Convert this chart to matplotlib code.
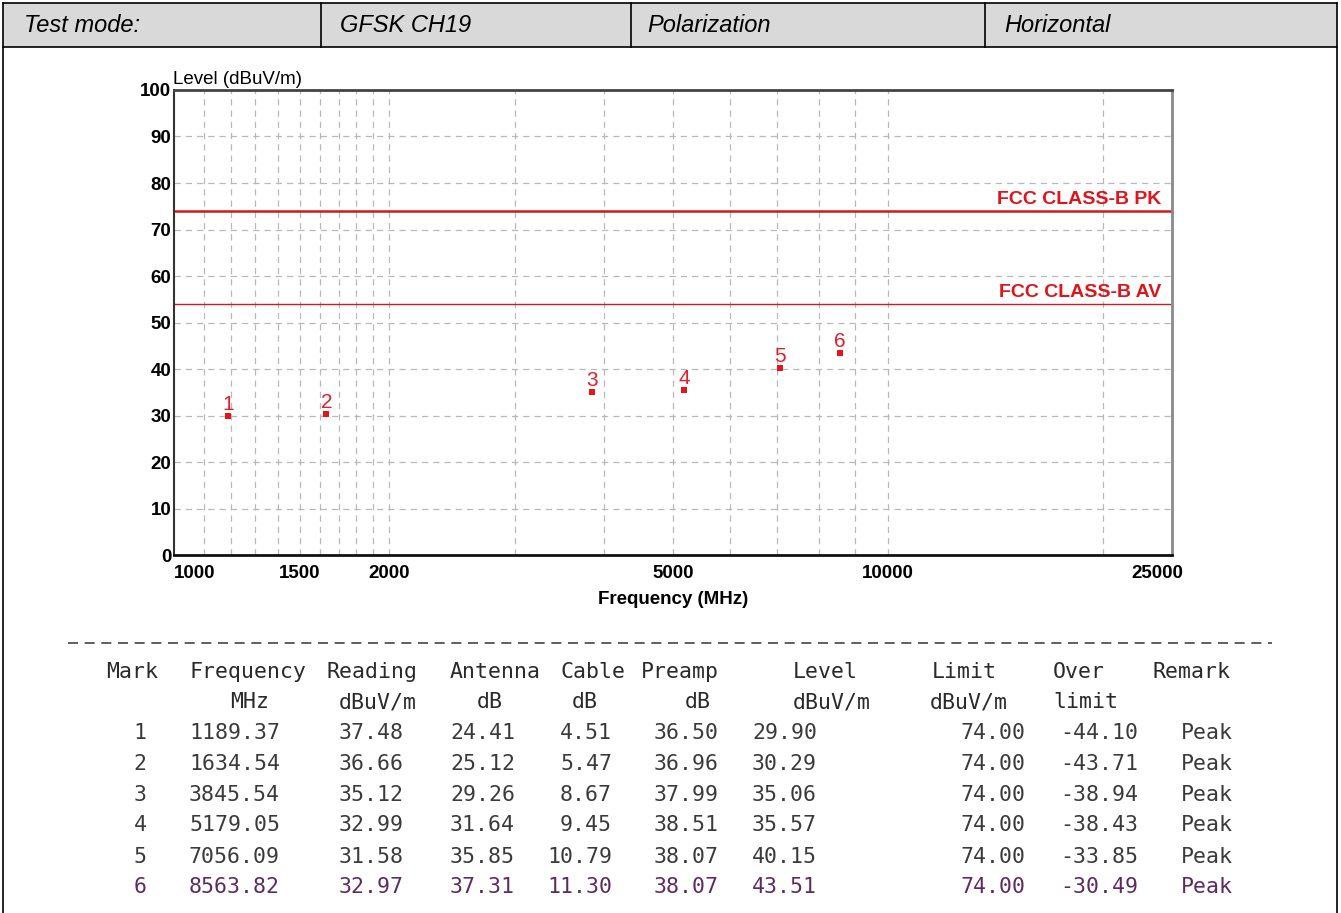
import matplotlib
matplotlib.use('Agg')
import matplotlib.pyplot as plt
import matplotlib.transforms as mtransforms
from matplotlib.lines import Line2D
from matplotlib.patches import Rectangle
from matplotlib.ticker import NullLocator

# ---------------- data ----------------
header_cells = ["Test mode:", "GFSK CH19", "Polarization", "Horizontal"]
marks = [1, 2, 3, 4, 5, 6]
freqs = [1189.37, 1634.54, 3845.54, 5179.05, 7056.09, 8563.82]
reading = [37.48, 36.66, 35.12, 32.99, 31.58, 32.97]
antenna = [24.41, 25.12, 29.26, 31.64, 35.85, 37.31]
cable = [4.51, 5.47, 8.67, 9.45, 10.79, 11.30]
preamp = [36.50, 36.96, 37.99, 38.51, 38.07, 38.07]
level = [29.90, 30.29, 35.06, 35.57, 40.15, 43.51]
limit = [74.00, 74.00, 74.00, 74.00, 74.00, 74.00]
over = [-44.10, -43.71, -38.94, -38.43, -33.85, -30.49]
remark = ["Peak", "Peak", "Peak", "Peak", "Peak", "Peak"]

limit_values = [74, 54]
limit_labels = ["FCC CLASS-B PK", "FCC CLASS-B AV"]

xtick_vals = [1000, 1500, 2000, 5000, 10000, 25000]
xtick_labels = ["1000", "1500", "2000", "5000", "10000", "25000"]
ytick_vals = [0, 10, 20, 30, 40, 50, 60, 70, 80, 90, 100]
grid_x = [1100, 1200, 1300, 1400, 1500, 1600, 1700, 1800, 1900, 2000,
          3000, 4000, 5000, 6000, 7000, 8000, 9000, 10000, 20000]
grid_y = [10, 20, 30, 40, 50, 60, 70, 80, 90]

table_headers = ["Mark", "Frequency", "Reading", "Antenna", "Cable", "Preamp",
                 "Level", "Limit", "Over", "Remark"]
table_units = ["", "MHz", "dBuV/m", "dB", "dB", "dB", "dBuV/m", "dBuV/m", "limit", ""]

# ---------------- layout helpers ----------------
W, H, DPI = 1341, 913, 100
fig = plt.figure(figsize=(W / DPI, H / DPI), dpi=DPI)
fig.patch.set_facecolor('white')

def fx(x):
    return x / W

def fy(y):
    return 1 - y / H

SANS = 'Liberation Sans'
MONO = 'DejaVu Sans Mono'

# ---------------- header row / frame ----------------
fig.patches.append(Rectangle((fx(3), fy(47)), fx(1337) - fx(3), fy(3) - fy(47),
                             transform=fig.transFigure, facecolor='#d9d9d9',
                             edgecolor='none', zorder=0))
frame_kw = dict(transform=fig.transFigure, color='black', lw=1.2)
fig.lines.append(Line2D([fx(3), fx(1337)], [fy(3), fy(3)], **frame_kw))
fig.lines.append(Line2D([fx(3), fx(1337)], [fy(47), fy(47)], **frame_kw))
for xd in [321, 631, 985]:
    fig.lines.append(Line2D([fx(xd), fx(xd)], [fy(3), fy(47)], **frame_kw))
fig.lines.append(Line2D([fx(3), fx(3)], [fy(3), fy(913)], **frame_kw))
fig.lines.append(Line2D([fx(1337), fx(1337)], [fy(3), fy(913)], **frame_kw))

for txt, xp in zip(header_cells, [24, 340, 647, 1004]):
    fig.text(fx(xp), fy(25), txt, family=SANS, style='italic', fontsize=17,
             ha='left', va='center', color='black')

# ---------------- chart ----------------
ax = fig.add_axes([fx(174), fy(555), fx(1172) - fx(174), fy(90) - fy(555)])
ax.set_xscale('log')
ax.set_xlim(1000, 25000)
ax.set_ylim(0, 100)
ax.xaxis.set_minor_locator(NullLocator())

for gx in grid_x:
    ax.axvline(gx, color='#b8b8b8', lw=0.9, linestyle=(0, (5, 4)), zorder=1)
for gy in grid_y:
    ax.axhline(gy, color='#b8b8b8', lw=0.9, linestyle=(0, (5, 4)), zorder=1)

ax.axhline(limit_values[0], color='#cc1a1f', lw=1.8, zorder=2)
ax.axhline(limit_values[1], color='#cc1a1f', lw=1.0, zorder=2)

for val, lab in zip(limit_values, limit_labels):
    ax.annotate(lab, xy=(0.989, val), xycoords=('axes fraction', 'data'),
                xytext=(0, 7), textcoords='offset pixels', ha='right', va='baseline',
                family=SANS, fontweight='bold', fontsize=14, color='#e0141c')

ax.plot(freqs, level, linestyle='none', marker='s', markersize=4.6,
        color='#e8141c', markeredgewidth=0, zorder=3)
for m, f, lv in zip(marks, freqs, level):
    ax.annotate(str(m), xy=(f, lv), xytext=(0, 6), textcoords='offset pixels',
                ha='center', va='baseline', family=SANS, fontsize=15,
                color='#e0202a', zorder=4)

ax.set_xticks(xtick_vals)
ax.set_xticklabels(xtick_labels)
ax.set_yticks(ytick_vals)
ax.set_yticklabels([str(v) for v in ytick_vals])
ax.tick_params(axis='both', length=0, labelsize=13.5, colors='black')
ax.tick_params(axis='x', pad=7)
ax.tick_params(axis='y', pad=2)
for lbl in ax.get_xticklabels() + ax.get_yticklabels():
    lbl.set_fontfamily(SANS)
    lbl.set_fontweight('bold')
xl = ax.get_xticklabels()
xl[0].set_ha('left')
xl[-1].set_transform(xl[-1].get_transform() +
                     mtransforms.ScaledTranslation(-15 / DPI, 0, fig.dpi_scale_trans))

ax.spines['left'].set_color('#333333')
ax.spines['left'].set_linewidth(1.5)
ax.spines['bottom'].set_color('#111111')
ax.spines['bottom'].set_linewidth(2.0)
ax.spines['top'].set_color('#444444')
ax.spines['top'].set_linewidth(2.0)
ax.spines['right'].set_color('#8a8a8a')
ax.spines['right'].set_linewidth(2.0)

ax.set_xlabel('Frequency (MHz)', family=SANS, fontweight='bold', fontsize=13.5)
ax.xaxis.set_label_coords(0.5, -(591 - 555) / 465)
fig.text(fx(173), fy(84), 'Level (dBuV/m)', family=SANS, fontsize=13.5,
         ha='left', va='baseline', color='black')

# ---------------- data table ----------------
fig.lines.append(Line2D([fx(68), fx(1272)], [fy(643), fy(643)], transform=fig.transFigure,
                        color='#444444', lw=1.2, linestyle=(0, (6, 4))))

tfont = dict(family=MONO, fontsize=15.5)
head_x = [106, 189, 326, 450, 560, 641, 793, 932, 1053, 1152]
unit_x = [0, 230, 339, 477, 572, 685, 793, 930, 1053, 0]
for h, u, hx, ux in zip(table_headers, table_units, head_x, unit_x):
    fig.text(fx(hx), fy(672), h, ha='left', va='center', color='#2a2a2a', **tfont)
    if u:
        fig.text(fx(ux), fy(702), u, ha='left', va='center', color='#2a2a2a', **tfont)

row_y = [733, 764, 795, 825, 857, 887]
for i in range(len(marks)):
    c = '#3a3a3a' if i < 5 else '#5e2a62'
    y = fy(row_y[i])
    cells = [
        (140, 'center', f"{marks[i]}"),
        (189, 'left', f"{freqs[i]:.2f}"),
        (339, 'left', f"{reading[i]:.2f}"),
        (450, 'left', f"{antenna[i]:.2f}"),
        (612, 'right', f"{cable[i]:.2f}"),
        (654, 'left', f"{preamp[i]:.2f}"),
        (752, 'left', f"{level[i]:.2f}"),
        (1026, 'right', f"{limit[i]:.2f}"),
        (1138, 'right', f"{over[i]:.2f}"),
        (1233, 'right', remark[i]),
    ]
    for xp, ha, s in cells:
        fig.text(fx(xp), y, s, ha=ha, va='center', color=c, **tfont)

fig.savefig('out.png', dpi=DPI)
